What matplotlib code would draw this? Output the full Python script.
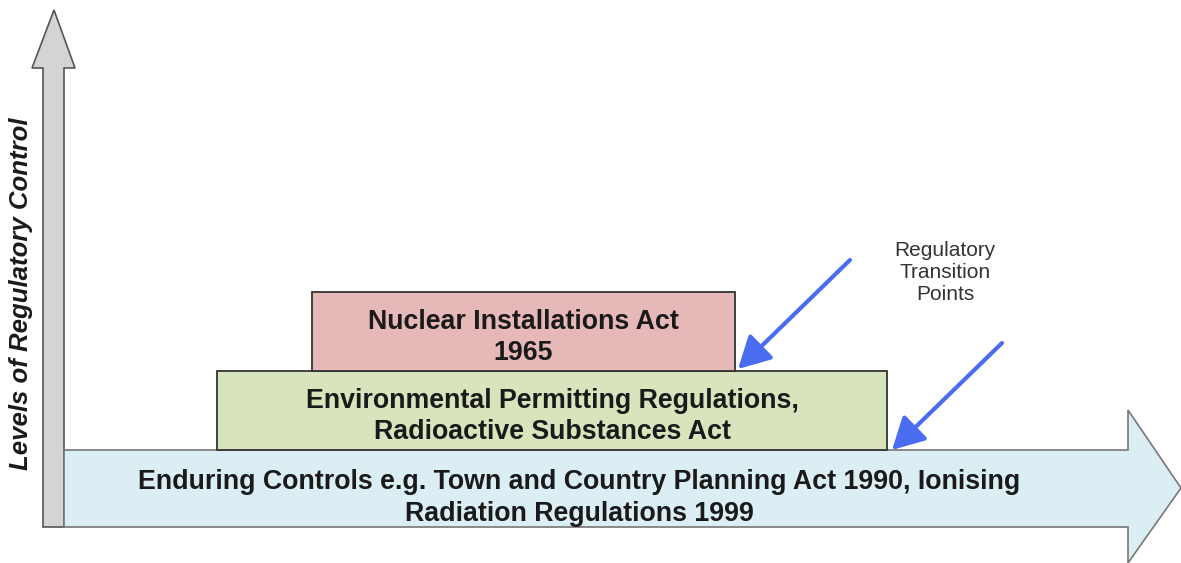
import matplotlib.pyplot as plt
from matplotlib.patches import Polygon, Rectangle, FancyArrowPatch

# layers of regulation: label, left, right, top, bottom (pixel space)
layer_labels = ["Environmental Permitting Regulations,\nRadioactive Substances Act",
                "Nuclear Installations Act\n1965"]
layer_left = [217, 312]
layer_right = [887, 735]
layer_top = [371, 292]
layer_bottom = [450, 371]
layer_colors = ["#d8e4bc", "#e6b9b8"]

base_label = "Enduring Controls e.g. Town and Country Planning Act 1990, Ionising\nRadiation Regulations 1999"
y_label = "Levels of Regulatory Control"
note_label = "Regulatory\nTransition\nPoints"

# transition arrows: start -> end
arrow_starts = [(850, 260), (1002, 343)]
arrow_ends = [(738, 369), (892, 450)]

fig = plt.figure(figsize=(11.81, 5.63), dpi=100)
ax = fig.add_axes([0, 0, 1, 1])
ax.set_xlim(0, 1181)
ax.set_ylim(563, 0)
ax.axis("off")

# vertical axis arrow
vert = [(43, 527), (43, 68), (32, 68), (54, 10), (75, 68), (64, 68), (64, 527)]
ax.add_patch(Polygon(vert, closed=True, fc="#d4d4d4", ec="#555555", lw=1.2))

# horizontal base arrow
horiz = [(64, 450), (1128, 450), (1128, 410), (1181, 488), (1128, 563),
         (1128, 527), (64, 527)]
ax.add_patch(Polygon(horiz, closed=True, fc="#dbeef3", ec="#777777", lw=1.2))
ax.text(579, 498, base_label, ha="center", va="center", fontsize=19.3,
        fontweight="bold", family="Liberation Sans", color="#1a1a1a", linespacing=1.3)

for lab, l, r, t, b, c in zip(layer_labels, layer_left, layer_right,
                              layer_top, layer_bottom, layer_colors):
    ax.add_patch(Rectangle((l, t), r - l, b - t, fc=c, ec="#333333", lw=1.3))
    ax.text((l + r) / 2, (t + b) / 2 + 6, lab, ha="center", va="center",
            fontsize=19.3, fontweight="bold", family="Liberation Sans",
            color="#1a1a1a", linespacing=1.25)

for s, e in zip(arrow_starts, arrow_ends):
    ax.add_patch(FancyArrowPatch(s, e, arrowstyle="-|>,head_length=13,head_width=7",
                                 color="#4a6cf0", lw=3, mutation_scale=1.5,
                                 shrinkA=0, shrinkB=0))

ax.text(945, 272, note_label, ha="center", va="center", fontsize=15,
        family="Liberation Sans", color="#333333", linespacing=1.2)

ax.text(21, 294, y_label, rotation=90, ha="center", va="center", fontsize=18.5,
        fontweight="bold", fontstyle="italic", family="Liberation Sans",
        color="#1a1a1a")

fig.savefig("out.png", dpi=100)
